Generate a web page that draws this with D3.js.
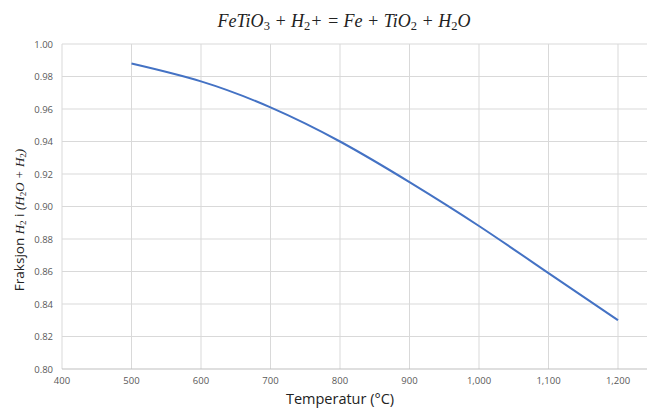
<!DOCTYPE html>
<html>
<head>
<meta charset="utf-8">
<script src="https://cdn.jsdelivr.net/npm/d3@7"></script>
<style>
  body { margin: 0; background: #fff; }
  svg { display: block; }
</style>
</head>
<body>
<svg></svg>
<script>
let width = 647;
let height = 409;

// temperature (°C) and H2 fraction
let temps = [500, 600, 700, 800, 900, 1000, 1100, 1200];
let fractions = [0.988, 0.977, 0.961, 0.940, 0.915, 0.888, 0.859, 0.830];
let xTicks = [400, 500, 600, 700, 800, 900, 1000, 1100, 1200];
let yTicks = [0.80, 0.82, 0.84, 0.86, 0.88, 0.90, 0.92, 0.94, 0.96, 0.98, 1.00];

let data = temps.map((t, i) => ({ t: t, f: fractions[i] }));

let xScale = d3.scaleLinear()
               .domain([400, 1200])
               .range([62, 618]);

let yScale = d3.scaleLinear()
               .domain([0.80, 1.00])
               .range([369, 44]);

let svg = d3.select('svg')
    .attr('width', width)
    .attr('height', height);

// horizontal gridlines
svg.append('g')
  .selectAll('line')
  .data(yTicks.slice(1))
  .enter()
  .append('line')
    .attr('x1', xScale(400))
    .attr('x2', width)
    .attr('y1', d => yScale(d))
    .attr('y2', d => yScale(d))
    .attr('stroke', '#d9d9d9')
    .attr('stroke-width', 1);

// vertical gridlines
svg.append('g')
  .selectAll('line')
  .data(xTicks)
  .enter()
  .append('line')
    .attr('x1', d => xScale(d))
    .attr('x2', d => xScale(d))
    .attr('y1', yScale(1.00))
    .attr('y2', yScale(0.80))
    .attr('stroke', '#d9d9d9')
    .attr('stroke-width', 1);

// bottom axis line
svg.append('line')
    .attr('x1', xScale(400))
    .attr('x2', width)
    .attr('y1', yScale(0.80))
    .attr('y2', yScale(0.80))
    .attr('stroke', '#bfbfbf')
    .attr('stroke-width', 1);

let fmtX = d3.format(',');
svg.append('g')
  .selectAll('text')
  .data(xTicks)
  .enter()
  .append('text')
    .attr('x', d => xScale(d))
    .attr('y', yScale(0.80) + 15)
    .attr('text-anchor', 'middle')
    .attr('font-family', 'Open Sans, sans-serif')
    .attr('font-size', 9.5)
    .attr('fill', '#595959')
    .text(d => fmtX(d));

let fmtY = d3.format('.2f');
svg.append('g')
  .selectAll('text')
  .data(yTicks)
  .enter()
  .append('text')
    .attr('x', 53)
    .attr('y', d => yScale(d) + 3.5)
    .attr('text-anchor', 'end')
    .attr('font-family', 'Open Sans, sans-serif')
    .attr('font-size', 9.5)
    .attr('fill', '#595959')
    .text(d => fmtY(d));

// the curve
let line = d3.line()
             .x(d => xScale(d.t))
             .y(d => yScale(d.f))
             .curve(d3.curveNatural);

svg.append('path')
    .datum(data)
    .attr('d', line)
    .attr('fill', 'none')
    .attr('stroke', '#4472c4')
    .attr('stroke-width', 2);

// title
let title = svg.append('text')
    .attr('x', 344)
    .attr('y', 27)
    .attr('text-anchor', 'middle')
    .attr('font-family', 'Liberation Serif, serif')
    .attr('font-style', 'italic')
    .attr('font-size', 18)
    .attr('fill', '#222');
let parts = [['FeTiO', 0], ['3', 1], [' + H', 0], ['2', 1], ['+ = Fe + TiO', 0], ['2', 1], [' + H', 0], ['2', 1], ['O', 0]];
parts.forEach(p => {
  title.append('tspan')
      .attr('font-size', p[1] ? 12.5 : 18)
      .attr('font-style', p[1] ? 'normal' : 'italic')
      .attr('baseline-shift', p[1] ? '-25%' : '0')
      .text(p[0]);
});

// x axis title
svg.append('text')
    .attr('x', 340)
    .attr('y', 404)
    .attr('text-anchor', 'middle')
    .attr('font-family', 'Open Sans, sans-serif')
    .attr('font-size', 14.5)
    .attr('fill', '#222')
    .text('Temperatur (°C)');

// y axis title
let yLab = svg.append('text')
    .attr('transform', 'translate(24,220) rotate(-90)')
    .attr('text-anchor', 'middle')
    .attr('fill', '#222');
yLab.append('tspan')
    .attr('font-family', 'Open Sans, sans-serif')
    .attr('font-size', 13.5)
    .text('Fraksjon ');
let yParts = [['H', 0], ['2', 1], [' i ', 2], ['(H', 0], ['2', 1], ['O + H', 0], ['2', 1], [')', 0]];
yParts.forEach(p => {
  yLab.append('tspan')
      .attr('font-family', p[1] === 2 ? 'Open Sans, sans-serif' : 'Liberation Serif, serif')
      .attr('font-style', p[1] === 0 ? 'italic' : 'normal')
      .attr('font-size', p[1] === 1 ? 9 : (p[1] === 2 ? 13.5 : 13))
      .attr('baseline-shift', p[1] === 1 ? '-25%' : '0')
      .text(p[0]);
});
</script>
</body>
</html>
